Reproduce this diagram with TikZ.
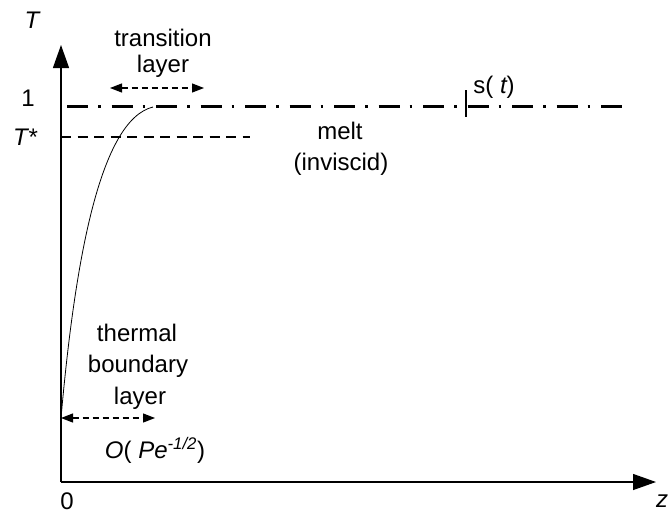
\documentclass[tikz,border=0pt]{standalone}
\usepackage{fontspec}
\setmainfont{Liberation Sans}
\usetikzlibrary{arrows.meta}
\begin{document}
\begin{tikzpicture}[x=1pt,y=-1pt,
  lbl/.style={font=\fontsize{24}{28}\selectfont, inner sep=0pt, align=center},
  axisline/.style={line width=1.3pt, -{Triangle[length=23pt,width=16pt]}},
  smallarrow/.style={line width=1.2pt, dash pattern=on 6pt off 4pt, {Triangle[length=12pt,width=9pt]}-{Triangle[length=12pt,width=9pt]}},
  meltline/.style={line width=3pt, dash pattern=on 21pt off 10pt on 2.5pt off 11pt},
  tstarline/.style={line width=1.1pt, dash pattern=on 10pt off 6.5pt}]
\useasboundingbox (0,0) rectangle (670,515);
\coordinate (O) at (61,482);
\coordinate (ytop) at (61,45);
\coordinate (xend) at (656,482);
\draw[axisline] (O) -- (ytop);
\draw[axisline] (O) -- (xend);
\coordinate (m1) at (67,106);
\coordinate (m2) at (626,106);
\draw[meltline] (m1) -- (m2);
\coordinate (ts1) at (61,137);
\coordinate (ts2) at (250,137);
\draw[tstarline] (ts1) -- (ts2);
\coordinate (tk1) at (466,90);
\coordinate (tk2) at (466,117);
\draw[line width=1.3pt] (tk1) -- (tk2);
\coordinate (c0) at (61,418);
\coordinate (c1) at (153,107);
\draw[line width=0.8pt] (c0) .. controls (75,260) and (100,120) .. (c1);
\coordinate (ta1) at (110,88);
\coordinate (ta2) at (204,88);
\draw[smallarrow] (ta1) -- (ta2);
\coordinate (ba1) at (61,418);
\coordinate (ba2) at (155,418);
\draw[smallarrow] (ba1) -- (ba2);
\node[lbl] (Tlab) at (32,20) {\itshape T};
\node[lbl] (one) at (28,98) {1};
\node[lbl] (tstar) at (25,137) {\itshape T*};
\node[lbl] (trans) at (163,38) {transition};
\node[lbl] (layer1) at (163,66) {layer};
\node[lbl] (melt) at (340,131) {melt};
\node[lbl] (invis) at (341,164) {(inviscid)};
\node[lbl] (st) at (494,87) {s( \itshape t\upshape )};
\node[lbl] (therm) at (137,333) {thermal};
\node[lbl] (bound) at (138,366) {boundary};
\node[lbl] (layer2) at (140,398) {layer};
\node[lbl] (ope) at (155,450) {\itshape O\upshape ( \itshape Pe\textsuperscript{-1/2}\upshape )};
\node[lbl] (zero) at (67,501) {0};
\node[lbl] (zlab) at (662,501) {\itshape z};
\end{tikzpicture}
\end{document}
